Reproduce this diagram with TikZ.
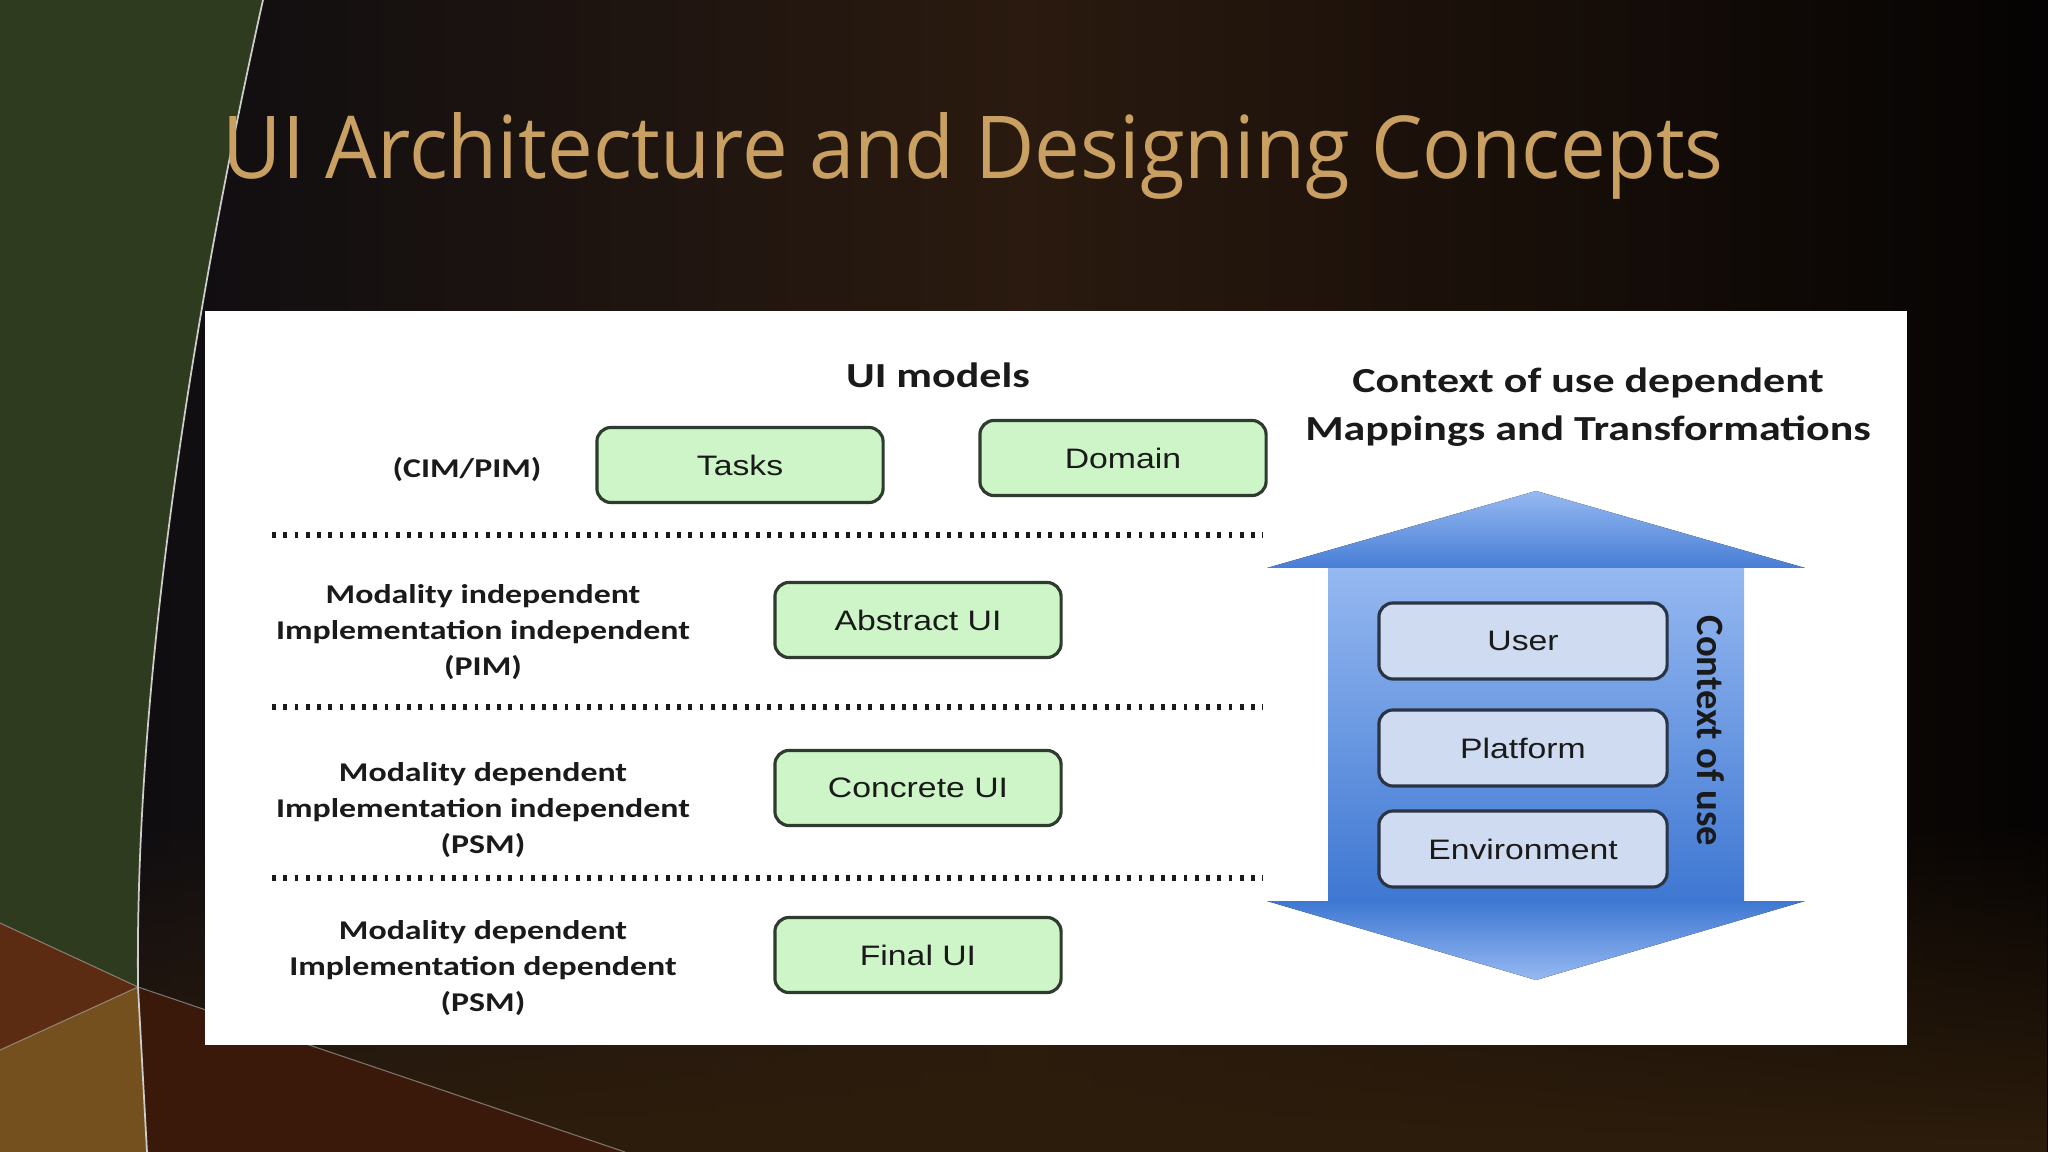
\documentclass[tikz,border=0pt]{standalone}
\usepackage{fontspec}
\usepackage{xcolor}
\usepackage{tikz}
\usetikzlibrary{fadings}

\newfontfamily\titlefont[FakeStretch=0.938]{Open Sans}
\newfontfamily\lblfont[FakeStretch=1.25]{Carlito}
\newfontfamily\boxfont[FakeStretch=1.2]{Liberation Sans}
\newfontfamily\vertfont{Carlito}

\definecolor{bgleft}{HTML}{0B0B11}
\definecolor{bgmid}{HTML}{2A1A0F}
\definecolor{bgright}{HTML}{050303}
\definecolor{bgbottom}{HTML}{2D1D0C}
\definecolor{leafgreen}{HTML}{2F3B1E}
\definecolor{rustbrown}{HTML}{5B2B12}
\definecolor{ochre}{HTML}{74501F}
\definecolor{darkrust}{HTML}{3A190A}
\definecolor{titletan}{HTML}{C9A062}
\definecolor{modelfill}{HTML}{CDF5C8}
\definecolor{modelline}{HTML}{2E3B2E}
\definecolor{ctxfill}{HTML}{CFDBF0}
\definecolor{ctxline}{HTML}{2B3445}
\definecolor{arrowlt}{HTML}{96B9F1}
\definecolor{arrowdk}{HTML}{3E77D2}
\definecolor{labelink}{HTML}{1A1A1A}

\begin{document}
\begin{tikzpicture}[x=0.01cm, y=-0.01cm,
  model/.style={draw=modelline, fill=modelfill, line width=0.9pt, rounded corners=4pt,
    minimum width=2.86cm, minimum height=0.75cm, font=\boxfont\fontsize{8}{9.6}\selectfont, text=labelink},
  ctx/.style={draw=ctxline, fill=ctxfill, line width=0.9pt, rounded corners=4pt,
    minimum width=2.88cm, minimum height=0.76cm, font=\boxfont\fontsize{8}{9.6}\selectfont, text=labelink},
  rowlbl/.style={align=center, text=labelink, font=\lblfont\bfseries\fontsize{7.7}{10.2}\selectfont},
  headlbl/.style={align=center, text=labelink, font=\lblfont\bfseries\fontsize{10}{13.7}\selectfont},
  sep/.style={line width=1.8pt, dash pattern=on 1.1pt off 2.1pt, labelink}]
\useasboundingbox (0,0) rectangle (2048,1152);

% slide background
\fill[left color=bgleft, right color=bgright, middle color=bgmid] (0,0) rectangle (2048,1152);
\fill[bgbottom, path fading=north] (0,820) rectangle (2048,1152);
\fill[leafgreen] (0,0) -- (263,0) .. controls (185,350) and (135,700) .. (138,987) -- (0,923) -- cycle;
\fill[rustbrown] (0,923) -- (138,987) -- (0,1050) -- cycle;
\fill[ochre] (0,1050) -- (138,987) -- (147,1152) -- (0,1152) -- cycle;
\fill[darkrust] (138,987) -- (625,1152) -- (147,1152) -- cycle;
\draw[white!60!gray, line width=0.5pt] (263,0) .. controls (185,350) and (135,700) .. (138,987) -- (147,1152);
\draw[white!40!gray, line width=0.3pt, opacity=0.6] (0,923) -- (138,987) -- (625,1152);
\draw[white!40!gray, line width=0.3pt, opacity=0.6] (0,1050) -- (138,987);

\node[anchor=base west, inner sep=0, text=titletan, font=\titlefont\fontsize{24.7}{29}\selectfont] (title) at (222,179) {UI Architecture and Designing Concepts};

% diagram panel
\fill[white] (205,311) rectangle (1907,1045);

\node[headlbl] (models) at (938,375) {UI models};
\node[headlbl] (maphead) at (1588,407) {Context of use dependent\\Mappings and Transformations};

\node[rowlbl] (cim) at (467,470) {(CIM/PIM)};
\node[model] (tasks) at (740,465) {Tasks};
\node[model] (domain) at (1123,458) {Domain};

\node[rowlbl] (pim) at (483,632) {Modality independent\\Implementation independent\\(PIM)};
\node[model] (abstract) at (918,620) {Abstract UI};

\node[rowlbl] (psmA) at (483,810) {Modality dependent\\Implementation independent\\(PSM)};
\node[model] (concrete) at (918,788) {Concrete UI};

\node[rowlbl] (psmB) at (483,968) {Modality dependent\\Implementation dependent\\(PSM)};
\node[model] (final) at (918,955) {Final UI};

\draw[sep] (272,535) -- (1263,535);
\draw[sep] (272,707) -- (1263,707);
\draw[sep] (272,878) -- (1263,878);

% two-way block arrow
\fill[top color=arrowlt, bottom color=arrowdk] (1328,566) rectangle (1744,903);
\fill[top color=arrowlt, bottom color=arrowdk!90!arrowlt] (1267,568) -- (1536,491) -- (1805,568) -- cycle;
\fill[top color=arrowdk, bottom color=arrowlt] (1267,901) -- (1805,901) -- (1536,980) -- cycle;

\node[ctx] (user) at (1523,641) {User};
\node[ctx] (platform) at (1523,748) {Platform};
\node[ctx] (environment) at (1523,849) {Environment};
\node[rotate=-90, text=labelink, font=\vertfont\bfseries\fontsize{11}{13}\selectfont] (ctxuse) at (1711,731) {Context of use};
\end{tikzpicture}
\end{document}
